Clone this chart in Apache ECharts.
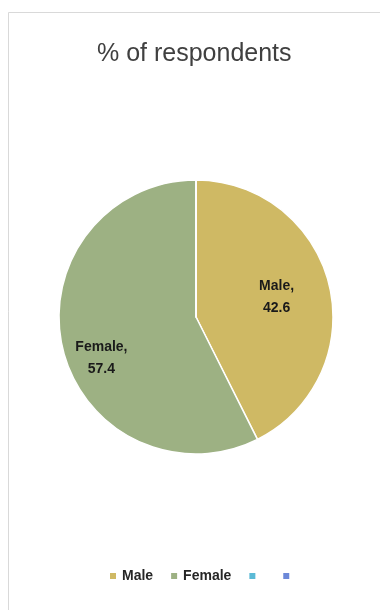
<!DOCTYPE html>
<html>
<head>
<meta charset="utf-8">
<script src="https://cdn.jsdelivr.net/npm/echarts@6/dist/echarts.min.js"></script>
<style>html,body{margin:0;padding:0;background:#fff;}#c{width:380px;height:610px;}</style>
</head>
<body>
<div id="c"></div>
<script>
var titleText = '% of respondents';
var categories = ['Male', 'Female', ' ', '  '];
var values = [42.6, 57.4, 0, 0];
var colors = ['#CFB964', '#9DB183', '#5BBAD6', '#6C88D8'];
var labelOffsets = [[11, -3], [-25, 25], [0, 0], [0, 0]];

var chart = echarts.init(document.getElementById('c'), null, {renderer: 'canvas'});
var data = categories.map(function (n, i) {
  return {
    name: n,
    value: values[i],
    itemStyle: {color: colors[i]},
    label: {show: values[i] > 0, offset: labelOffsets[i]}
  };
});
chart.setOption({
  animation: false,
  backgroundColor: '#fff',
  graphic: [{
    type: 'rect', shape: {x: 8.5, y: 12.5, width: 400, height: 620},
    style: {fill: 'none', stroke: '#d9d9d9', lineWidth: 1}, silent: true
  }],
  title: {
    text: titleText, left: 92, top: 37,
    textStyle: {fontFamily: 'Liberation Sans', fontSize: 25, fontWeight: 'normal', color: '#404040'}
  },
  legend: {
    bottom: 22, left: 103,
    itemWidth: 8, itemHeight: 8, itemGap: 16, icon: 'rect',
    data: categories,
    textStyle: {fontFamily: 'Liberation Sans', fontSize: 14, fontWeight: 'bold', color: '#262626'}
  },
  series: [{
    type: 'pie',
    center: [196, 317],
    radius: 137,
    startAngle: 90,
    clockwise: true,
    stillShowZeroSum: true,
    data: data,
    itemStyle: {borderColor: '#fff', borderWidth: 1.5},
    label: {
      position: 'inside',
      formatter: function (p) { return p.name + ',\n' + p.value; },
      fontFamily: 'Liberation Sans', fontSize: 14, fontWeight: 'bold', color: '#1a1a1a', lineHeight: 22
    },
    labelLine: {show: false},
    emphasis: {disabled: true}
  }]
});
</script>
</body>
</html>
